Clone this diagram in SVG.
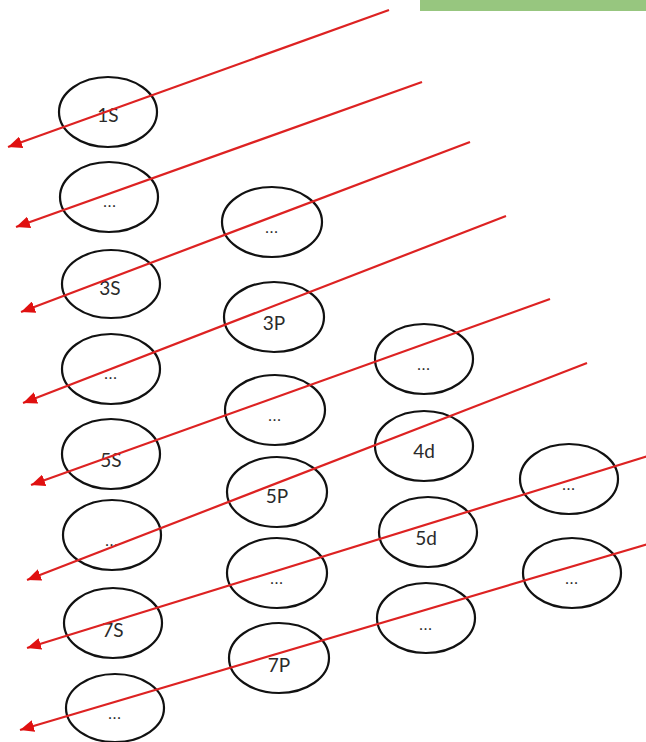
<svg xmlns="http://www.w3.org/2000/svg" width="646" height="742" viewBox="0 0 646 742">
<style>
.n ellipse{fill:none;stroke:#111;stroke-width:2.2}
.n text{font-family:Lato,"Open Sans","Liberation Sans",sans-serif;font-size:19px;fill:#2a2a2a;text-anchor:middle}
.n text.d{font-size:15px;letter-spacing:1px}
.c line{stroke:#dd2222;stroke-width:2.2;marker-end:url(#ah)}
</style>
<defs>
<marker id="ah" markerUnits="userSpaceOnUse" markerWidth="16" markerHeight="12" refX="14" refY="6" orient="auto">
<path d="M0,0 L14,6 L0,12 Z" fill="#e01010"/>
</marker>
</defs>
<rect x="420" y="0" width="226" height="11" fill="#97c67f"/>
<g id="s1" class="n"><ellipse cx="108" cy="112" rx="49" ry="35"/><text x="108" y="122">1S</text></g>
<g id="s2" class="n"><ellipse cx="109" cy="197" rx="49" ry="35"/><text class="d" x="110" y="207">...</text></g>
<g id="s3" class="n"><ellipse cx="111" cy="284" rx="49" ry="34"/><text x="110" y="295">3S</text></g>
<g id="s4" class="n"><ellipse cx="111" cy="369" rx="49" ry="35"/><text class="d" x="111" y="379">...</text></g>
<g id="s5" class="n"><ellipse cx="111" cy="454" rx="49" ry="35"/><text x="111" y="467">5S</text></g>
<g id="s6" class="n"><ellipse cx="112" cy="535" rx="49" ry="35"/><text class="d" x="112" y="546">...</text></g>
<g id="s7" class="n"><ellipse cx="113" cy="623" rx="49" ry="35"/><text x="113" y="637">7S</text></g>
<g id="s8" class="n"><ellipse cx="115" cy="708" rx="49" ry="34"/><text class="d" x="115" y="719">...</text></g>
<g id="p1" class="n"><ellipse cx="272" cy="222" rx="50" ry="35"/><text class="d" x="272" y="233">...</text></g>
<g id="p2" class="n"><ellipse cx="274" cy="317" rx="50" ry="35"/><text x="274" y="330">3P</text></g>
<g id="p3" class="n"><ellipse cx="275" cy="410" rx="50" ry="35"/><text class="d" x="275" y="421">...</text></g>
<g id="p4" class="n"><ellipse cx="277" cy="492" rx="50" ry="35"/><text x="277" y="503">5P</text></g>
<g id="p5" class="n"><ellipse cx="277" cy="573" rx="50" ry="35"/><text class="d" x="277" y="584">...</text></g>
<g id="p6" class="n"><ellipse cx="279" cy="658" rx="50" ry="35"/><text x="279" y="672">7P</text></g>
<g id="d1" class="n"><ellipse cx="424" cy="359" rx="49" ry="35"/><text class="d" x="424" y="370">...</text></g>
<g id="d2" class="n"><ellipse cx="424" cy="446" rx="49" ry="35"/><text x="424" y="458">4d</text></g>
<g id="d3" class="n"><ellipse cx="428" cy="532" rx="49" ry="35"/><text x="426" y="545">5d</text></g>
<g id="d4" class="n"><ellipse cx="426" cy="618" rx="49" ry="35"/><text class="d" x="426" y="630">...</text></g>
<g id="f1" class="n"><ellipse cx="569" cy="479" rx="49" ry="35"/><text class="d" x="569" y="490">...</text></g>
<g id="f2" class="n"><ellipse cx="572" cy="573" rx="49" ry="35"/><text class="d" x="572" y="584">...</text></g>
<g id="connectors" class="c">
<line x1="389" y1="10" x2="8" y2="147"/>
<line x1="422" y1="82" x2="16" y2="227"/>
<line x1="470" y1="142" x2="21" y2="312"/>
<line x1="506" y1="216" x2="23" y2="403"/>
<line x1="550" y1="299" x2="31" y2="485"/>
<line x1="587" y1="363" x2="27" y2="580"/>
<line x1="648" y1="456" x2="27" y2="648"/>
<line x1="648" y1="544" x2="20" y2="730"/>
</g>
</svg>
